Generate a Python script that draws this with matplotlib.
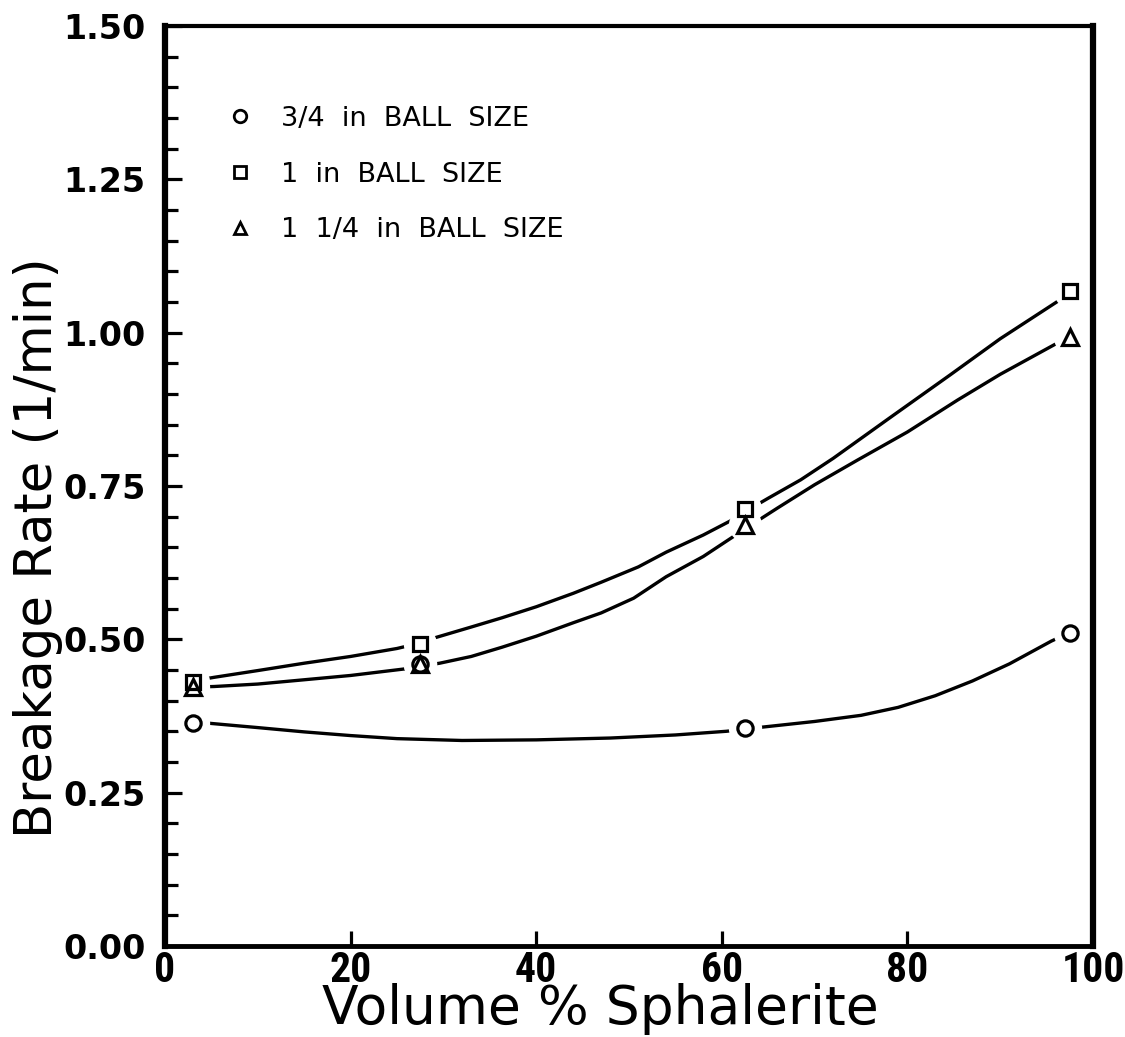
import matplotlib
matplotlib.use("Agg")
import matplotlib.pyplot as plt
from matplotlib.lines import Line2D
from matplotlib.ticker import MultipleLocator
from matplotlib import font_manager

# ---- data ----
x_pts = [3, 27.5, 62.5, 97.5]
rate_34in = [0.363, 0.460, 0.355, 0.511]
rate_1in = [0.430, 0.492, 0.712, 1.068]
rate_114in = [0.422, 0.459, 0.686, 0.993]

# fitted curves as drawn in the reference
fit_34_x = [3, 4.8, 10, 15, 20, 25, 32, 40, 48, 55, 60.5, 64.5, 70, 75, 79, 83, 87, 91, 95.5, 97.5]
fit_34_y = [0.365, 0.363, 0.356, 0.349, 0.343, 0.338, 0.335, 0.336, 0.339, 0.344, 0.350, 0.357,
            0.366, 0.376, 0.389, 0.408, 0.432, 0.460, 0.497, 0.511]
fit_1_x = [3, 5.3, 10, 15, 20, 25, 27.5, 29.2, 33, 36.3, 40, 44, 47, 51, 54, 58, 61.3, 62.5,
           65, 68.5, 72, 78, 84.6, 90, 96.6, 97.5]
fit_1_y = [0.432, 0.438, 0.449, 0.461, 0.472, 0.485, 0.494, 0.503, 0.520, 0.535, 0.553, 0.575,
           0.593, 0.618, 0.642, 0.670, 0.696, 0.708, 0.730, 0.760, 0.795, 0.860, 0.931, 0.990,
           1.055, 1.066]
fit_114_x = [3, 5.3, 10, 15, 20, 26, 27.5, 29.6, 33, 36.3, 40, 44, 47, 50.5, 54, 58, 61.3, 62.5,
             66, 70, 74.6, 80, 85.4, 90, 96.4, 97.5]
fit_114_y = [0.422, 0.423, 0.427, 0.434, 0.441, 0.452, 0.456, 0.461, 0.472, 0.487, 0.505, 0.527,
             0.543, 0.567, 0.602, 0.635, 0.668, 0.680, 0.714, 0.752, 0.792, 0.838, 0.890,
             0.932, 0.985, 0.993]

legend_labels = ["3/4  in  BALL  SIZE", "1  in  BALL  SIZE", "1  1/4  in  BALL  SIZE"]
x_ticks = [0, 20, 40, 60, 80, 100]
y_ticks = [0.00, 0.25, 0.50, 0.75, 1.00, 1.25, 1.50]

# pick a narrow bold face for the x tick labels if one is installed
installed = {f.name for f in font_manager.fontManager.ttflist}
narrow = [n for n in ("Liberation Sans Narrow", "Roboto Condensed", "Roboto") if n in installed]
xtick_family = (narrow[:1] or ["DejaVu Sans"]) + ["DejaVu Sans"]

# ---- figure ----
fig = plt.figure(figsize=(11.25, 10.37), dpi=100)
ax = fig.add_axes([0.1467, 0.0878, 0.9716 - 0.1467, 0.975 - 0.0878])

lw = 2.4
for fx, fy in ((fit_34_x, fit_34_y), (fit_1_x, fit_1_y), (fit_114_x, fit_114_y)):
    ax.plot(fx, fy, color="black", lw=lw, zorder=2, solid_capstyle="butt")

# white halos producing the gaps around markers
for ys in (rate_34in, rate_1in, rate_114in):
    ax.plot(x_pts, ys, linestyle="none", marker="o", markersize=24,
            markerfacecolor="white", markeredgecolor="white", markeredgewidth=0, zorder=3)

ms = dict(linestyle="none", markerfacecolor="none", markeredgecolor="black",
          markeredgewidth=2.3, zorder=4)
ax.plot(x_pts, rate_34in, marker="o", markersize=11, **ms)
ax.plot(x_pts, rate_1in, marker="s", markersize=10, **ms)
ax.plot(x_pts, rate_114in, marker="^", markersize=11, **ms)

ax.set_xlim(0, 100)
ax.set_ylim(0, 1.5)
ax.set_xticks(x_ticks)
ax.set_yticks(y_ticks)
ax.set_xticklabels([str(v) for v in x_ticks])
ax.set_yticklabels([f"{v:.2f}" for v in y_ticks])
ax.yaxis.set_minor_locator(MultipleLocator(0.05))

ax.tick_params(axis="y", which="major", direction="in", length=12, width=2.3, pad=14,
               labelsize=24)
ax.tick_params(axis="y", which="minor", direction="in", length=9, width=2.3)
ax.tick_params(axis="x", which="major", direction="in", length=11, width=2.3, pad=3,
               labelsize=30)
for lab in ax.get_yticklabels():
    lab.set_fontweight("bold")
    lab.set_family("DejaVu Sans")
for lab in ax.get_xticklabels():
    lab.set_fontweight("bold")
    lab.set_family(xtick_family)

ax.spines["left"].set_linewidth(4.5)
ax.spines["bottom"].set_linewidth(3.5)
ax.spines["right"].set_linewidth(4.5)
ax.spines["top"].set_linewidth(3)

ax.set_xlabel("Volume % Sphalerite", fontsize=38.5)
ax.set_ylabel("Breakage Rate (1/min)", fontsize=37)
ax.xaxis.set_label_coords(0.469, -0.069)
ax.yaxis.set_label_coords(-0.137, 0.433)
ax.xaxis.label.set_verticalalignment("center")
ax.yaxis.label.set_verticalalignment("center")

handles = [
    Line2D([], [], linestyle="none", marker="o", markersize=9, markerfacecolor="none",
           markeredgecolor="black", markeredgewidth=2),
    Line2D([], [], linestyle="none", marker="s", markersize=8, markerfacecolor="none",
           markeredgecolor="black", markeredgewidth=2),
    Line2D([], [], linestyle="none", marker="^", markersize=8, markerfacecolor="none",
           markeredgecolor="black", markeredgewidth=2),
]
ax.legend(handles, legend_labels, loc="upper left", bbox_to_anchor=(0.055, 0.925),
          frameon=False, fontsize=19.5, handlelength=1.0, handletextpad=1.0,
          labelspacing=1.1, borderaxespad=0)

fig.savefig("out.png", dpi=100, facecolor="white")
